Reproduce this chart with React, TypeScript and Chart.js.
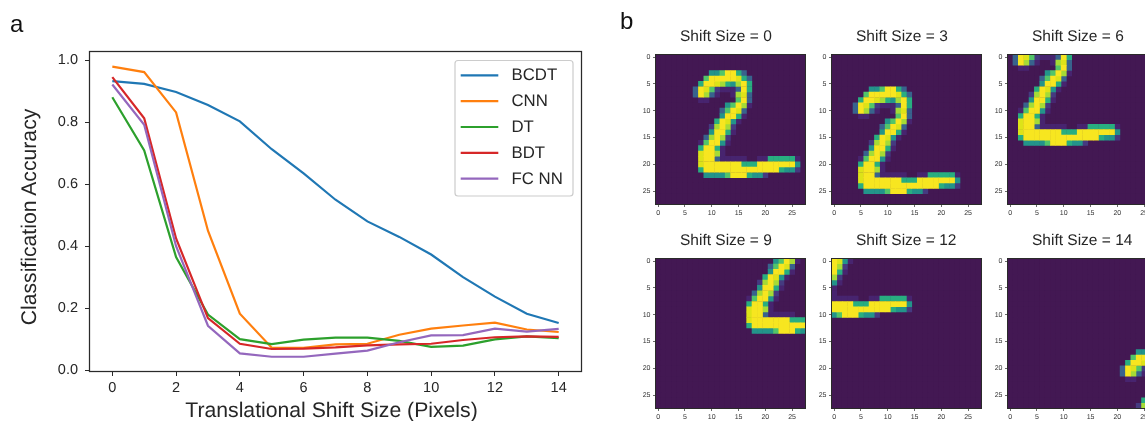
import React, { useEffect, useRef } from "react";
import { Chart, registerables } from "chart.js";

Chart.register(...registerables);

const FONT = "'Liberation Sans', Arial, sans-serif";
const INK = "#262626";
const SPINE = "#2a2a2a";

// ---- panel a data ----
const shiftSteps = [0, 1, 2, 3, 4, 5, 6, 7, 8, 9, 10, 11, 12, 13, 14];
const bcdt = [0.933, 0.924, 0.898, 0.856, 0.803, 0.713, 0.635, 0.55, 0.48, 0.43, 0.373, 0.3, 0.237, 0.182, 0.152];
const cnn = [0.98, 0.962, 0.832, 0.45, 0.182, 0.072, 0.072, 0.083, 0.085, 0.114, 0.134, 0.144, 0.153, 0.131, 0.123];
const dt = [0.881, 0.709, 0.365, 0.179, 0.1, 0.084, 0.098, 0.105, 0.105, 0.094, 0.075, 0.079, 0.099, 0.109, 0.103];
const bdt = [0.946, 0.813, 0.425, 0.168, 0.085, 0.068, 0.069, 0.073, 0.08, 0.083, 0.085, 0.097, 0.106, 0.109, 0.107];
const fcnn = [0.922, 0.792, 0.4, 0.143, 0.054, 0.043, 0.043, 0.053, 0.063, 0.09, 0.112, 0.113, 0.134, 0.124, 0.133];
const seriesNames = ["BCDT", "CNN", "DT", "BDT", "FC NN"];
const seriesColors = ["#1f77b4", "#ff7f0e", "#2ca02c", "#d62728", "#9467bd"];
const xTicks = [0, 2, 4, 6, 8, 10, 12, 14];
const yTicks = [0, 0.2, 0.4, 0.6, 0.8, 1];
const xAxisTitle = "Translational Shift Size (Pixels)";
const yAxisTitle = "Classification Accuracy";

// ---- panel b data ----
const digitRows = [
  "",
  "",
  "",
  "00000000004469953",
  "000000000699999853",
  "000000005998754795",
  "000000039862111395",
  "000000039731001783",
  "000000001100000693",
  "000000000000046971",
  "00000000000036983",
  "00000000000049951",
  "0000000000059841",
  "000000000027972",
  "000000000049951",
  "00000000037972",
  "00000000169941",
  "0000000059951",
  "0000000089971",
  "000000008993111110011555551",
  "000000008999999955599999994",
  "000000005999999999999995442",
  "000000000444469995442",
  "",
  "",
  "",
  "",
  "",
];
const shiftSizes = [0, 3, 6, 9, 12, 14];
const shiftDx = [0, -3, -6, 9, -12, 14];
const shiftDy = [0, 3, -6, -9, -12, 14];
const levelColors = ["#431853", "#47246f", "#453a80", "#38638d", "#23948a", "#28ae80", "#52c569", "#a5db36", "#dde318", "#f7e620"];
const imageTicks = [0, 5, 10, 15, 20, 25];

type Cell = { x: number; y: number; v: number };

function cellsFor(dx: number, dy: number): Cell[] {
  const cells: Cell[] = [];
  digitRows.forEach((row, r) => {
    const full = row.padEnd(28, "0");
    for (let c = 0; c < 28; c++) {
      const x = c + dx;
      const y = r + dy;
      if (x >= 0 && x < 28 && y >= 0 && y < 28) cells.push({ x, y, v: Number(full[c]) });
    }
  });
  for (let x = 0; x < 28; x++) {
    for (let y = 0; y < 28; y++) {
      if (!cells.some((p) => p.x === x && p.y === y)) cells.push({ x, y, v: 0 });
    }
  }
  // Bright cells last, so that the hair of overlap between cells favours them.
  return cells.sort((a, b) => a.v - b.v);
}

const smoothText = {
  id: "smoothText",
  beforeDraw(chart: any) {
    chart.ctx.textRendering = "geometricPrecision";
    chart.ctx.fontKerning = "normal";
  },
};

const mainFrame = {
  id: "mainFrame",
  afterDraw(chart: any) {
    const { left, right, top, bottom } = chart.chartArea;
    const ctx = chart.ctx;
    ctx.save();
    ctx.strokeStyle = SPINE;
    ctx.lineWidth = 1.25;
    ctx.strokeRect(left - 0.5, top - 0.5, right - left + 1, bottom - top + 1);
    ctx.restore();
  },
};

const imageFrame = {
  id: "imageFrame",
  afterDraw(chart: any) {
    const { left, right, top, bottom } = chart.chartArea;
    const ctx = chart.ctx;
    ctx.save();
    ctx.strokeStyle = SPINE;
    ctx.lineWidth = 1;
    ctx.strokeRect(left, top, right - left, bottom - top);
    ctx.restore();
  },
};

const imageBackground = {
  id: "imageBackground",
  beforeDatasetsDraw(chart: any) {
    const { left, right, top, bottom } = chart.chartArea;
    chart.ctx.save();
    chart.ctx.fillStyle = levelColors[0];
    chart.ctx.fillRect(left, top, right - left, bottom - top);
    chart.ctx.restore();
  },
};

const panelTitle = {
  id: "panelTitle",
  afterDraw(chart: any, _args: any, opts: any) {
    const ctx = chart.ctx;
    ctx.save();
    ctx.fillStyle = INK;
    ctx.font = `15.5px ${FONT}`;
    ctx.textAlign = "left";
    ctx.textBaseline = "middle";
    ctx.fillText(opts.text, chart.chartArea.left + 24.5, 9.5);
    ctx.restore();
  },
};

const axisTitles = {
  id: "axisTitles",
  afterDraw(chart: any) {
    const ctx = chart.ctx;
    ctx.save();
    ctx.fillStyle = INK;
    ctx.font = `21.2px ${FONT}`;
    ctx.textAlign = "center";
    ctx.textBaseline = "middle";
    ctx.fillText(xAxisTitle, 331.5, 411);
    ctx.translate(30, 217);
    ctx.rotate(-Math.PI / 2);
    ctx.fillText(yAxisTitle, 0, 0);
    ctx.restore();
  },
};

const boxLegend = {
  id: "boxLegend",
  afterDraw(chart: any) {
    const ctx = chart.ctx;
    const x0 = 455, y0 = 60.5, w = 118, h = 135.5, r = 3;
    ctx.save();
    ctx.beginPath();
    ctx.roundRect(x0, y0, w, h, r);
    ctx.fillStyle = "rgba(255,255,255,0.85)";
    ctx.fill();
    ctx.strokeStyle = "#cccccc";
    ctx.lineWidth = 1.2;
    ctx.stroke();
    ctx.font = `16.8px ${FONT}`;
    ctx.textBaseline = "middle";
    ctx.textAlign = "left";
    chart.data.datasets.forEach((d: any, i: number) => {
      const y = 75.3 + i * 25.85;
      ctx.strokeStyle = d.borderColor;
      ctx.lineWidth = 2.2;
      ctx.beginPath();
      ctx.moveTo(460.7, y);
      ctx.lineTo(498.3, y);
      ctx.stroke();
      ctx.fillStyle = INK;
      ctx.fillText(d.label, 511.5, y + 0.5);
    });
    ctx.restore();
  },
};

function LineChart() {
  const ref = useRef<HTMLCanvasElement>(null);
  useEffect(() => {
    const all = [bcdt, cnn, dt, bdt, fcnn];
    const chart = new Chart(ref.current!, {
      type: "line",
      data: {
        labels: shiftSteps,
        datasets: all.map((vals, i) => ({
          label: seriesNames[i],
          data: vals.map((v, k) => ({ x: shiftSteps[k], y: v })),
          borderColor: seriesColors[i],
          borderWidth: 2.2,
          pointRadius: 0,
          tension: 0,
          order: all.length - 1 - i,
        })),
      },
      options: {
        animation: false,
        responsive: false,
        devicePixelRatio: 1,
        layout: { padding: { top: 52, right: 19, left: 0, bottom: 0 } },
        plugins: { legend: { display: false }, tooltip: { enabled: false } },
        scales: {
          x: {
            type: "linear",
            min: -0.7,
            max: 14.7,
            afterBuildTicks: (s: any) => { s.ticks = xTicks.map((value) => ({ value })); },
            afterFit: (s: any) => { s.height = 50; },
            grid: { drawOnChartArea: false, color: SPINE, tickLength: 5, tickWidth: 1 },
            border: { display: false },
            ticks: { color: INK, font: { family: FONT, size: 14.5 }, maxRotation: 0, autoSkip: false, padding: 3, callback: (v: any) => String(v) },
          },
          y: {
            min: -0.003,
            max: 1.027,
            afterBuildTicks: (s: any) => { s.ticks = yTicks.map((value) => ({ value })); },
            afterFit: (s: any) => { s.width = 90; },
            grid: { drawOnChartArea: false, color: SPINE, tickLength: 5, tickWidth: 1 },
            border: { display: false },
            ticks: { color: INK, font: { family: FONT, size: 14.5 }, autoSkip: false, padding: 7, callback: (v: any) => Number(v).toFixed(1) },
          },
        },
      },
      plugins: [smoothText, mainFrame, axisTitles, boxLegend],
    } as any);
    return () => chart.destroy();
  }, []);
  return <canvas ref={ref} width={600} height={421} style={{ position: "absolute", left: 0, top: 0 }} />;
}

function ImagePanel({ index, left, top }: { index: number; left: number; top: number }) {
  const ref = useRef<HTMLCanvasElement>(null);
  useEffect(() => {
    const cells = cellsFor(shiftDx[index], shiftDy[index]);
    const chart = new Chart(ref.current!, {
      type: "scatter",
      data: {
        datasets: [{
          data: cells,
          pointStyle: "rect",
          pointRadius: 4.1,
          pointBorderWidth: 0,
          pointBackgroundColor: (c: any) => levelColors[c.raw ? c.raw.v : 0],
        }],
      },
      options: {
        animation: false,
        responsive: false,
        devicePixelRatio: 1,
        layout: { padding: { top: 27.5, right: 21.5, left: 0, bottom: 0 } },
        plugins: {
          legend: { display: false },
          tooltip: { enabled: false },
          panelTitle: { text: `Shift Size = ${shiftSizes[index]}` },
        },
        scales: {
          x: {
            type: "linear",
            min: -0.5,
            max: 27.5,
            afterBuildTicks: (s: any) => { s.ticks = imageTicks.map((value) => ({ value })); },
            afterFit: (s: any) => { s.height = 20.5; },
            grid: { drawOnChartArea: false, color: SPINE, tickLength: 2.5, tickWidth: 0.7 },
            border: { display: false },
            ticks: { color: "#333", font: { family: FONT, size: 7 }, maxRotation: 0, autoSkip: false, padding: 2 },
          },
          y: {
            reverse: true,
            min: -0.5,
            max: 27.5,
            afterBuildTicks: (s: any) => { s.ticks = imageTicks.map((value) => ({ value })); },
            afterFit: (s: any) => { s.width = 30.5; },
            grid: { drawOnChartArea: false, color: SPINE, tickLength: 2.5, tickWidth: 0.7 },
            border: { display: false },
            ticks: { color: "#333", font: { family: FONT, size: 7 }, autoSkip: false, padding: 2.5 },
          },
        },
      },
      plugins: [smoothText, imageBackground, imageFrame, panelTitle],
    } as any);
    return () => chart.destroy();
  }, [index]);
  return <canvas ref={ref} width={202} height={198} style={{ position: "absolute", left, top, filter: "blur(0.35px)" }} />;
}

const panelLefts = [625, 801, 977];
const panelTops = [27, 231];

export default function App() {
  return (
    <div style={{ position: "fixed", left: 0, top: 0, width: 1145, height: 421, overflow: "hidden", background: "#fff" }}>
      <LineChart />
      {shiftSizes.map((_, i) => (
        <ImagePanel key={i} index={i} left={panelLefts[i % 3]} top={panelTops[Math.floor(i / 3)]} />
      ))}
      <div style={{ position: "absolute", left: 10, top: 10, font: `24px ${FONT}`, color: "#111" }}>a</div>
      <div style={{ position: "absolute", left: 620, top: 7, font: `24px ${FONT}`, color: "#111" }}>b</div>
    </div>
  );
}
